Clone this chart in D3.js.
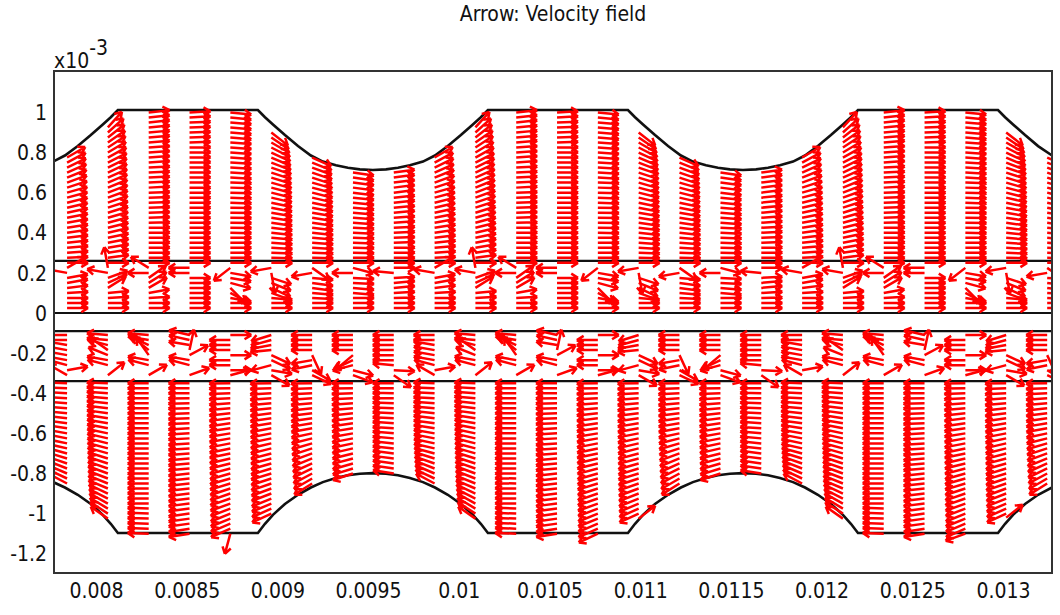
<!DOCTYPE html>
<html><head><meta charset="utf-8">
<script src="https://cdn.jsdelivr.net/npm/d3@7"></script>
<style>
html,body{margin:0;padding:0;background:#fff}
svg{display:block}
text{font-family:"DejaVu Sans Condensed","DejaVu Sans",sans-serif;font-stretch:condensed;fill:#111}
</style></head><body><svg id="c" width="1060" height="615"></svg>
<script>
// ---- axes
const titleText = "Arrow: Velocity field";
const xTicks = [8,8.5,9,9.5,10,10.5,11,11.5,12,12.5,13];
const xTickLabels = ["0.008","0.0085","0.009","0.0095","0.01","0.0105","0.011","0.0115","0.012","0.0125","0.013"];
const yTicks = [1,0.8,0.6,0.4,0.2,0,-0.2,-0.4,-0.6,-0.8,-1,-1.2];
const yTickLabels = ["1","0.8","0.6","0.4","0.2","0","-0.2","-0.4","-0.6","-0.8","-1","-1.2"];

// ---- geometry (x and y in units of 1e-3)
const wallX = [7.763,7.823,7.894,7.966,8.032,8.076,8.115,
 8.887,8.926,8.970,9.036,9.108,9.179,9.245,9.317,9.383,9.449,9.521,9.593,9.659,9.725,9.797,9.863,9.934,10.006,10.072,10.116,10.155,
 10.927,10.966,11.010,11.076,11.148,11.219,11.285,11.357,11.423,11.489,11.561,11.633,11.699,11.765,11.837,11.903,11.974,12.046,12.112,12.156,12.195,
 12.967,13.006,13.050,13.116,13.188,13.265];
const topWallY = [.757,.785,.832,.887,.940,.976,1.012,
 1.012,.976,.940,.887,.832,.785,.755,.736,.724,.716,.713,.716,.724,.736,.755,.785,.832,.887,.940,.976,1.012,
 1.012,.976,.940,.887,.832,.785,.755,.736,.724,.716,.713,.716,.724,.736,.755,.785,.832,.887,.940,.976,1.012,
 1.012,.976,.940,.887,.832,.785];
const bottomWallY = [-.845,-.870,-.906,-.952,-1.006,-1.051,-1.097,
 -1.097,-1.051,-1.006,-.952,-.906,-.870,-.843,-.823,-.809,-.801,-.798,-.801,-.809,-.823,-.843,-.870,-.906,-.952,-1.006,-1.051,-1.097,
 -1.097,-1.051,-1.006,-.952,-.906,-.870,-.843,-.823,-.809,-.801,-.798,-.801,-.809,-.823,-.843,-.870,-.906,-.952,-1.006,-1.051,-1.097,
 -1.097,-1.051,-1.006,-.952,-.906,-.870];
const layerLinesY = [0.26,0,-0.09,-0.34];

// ---- arrow sampling grid
const columnX = [7.835,8.060,8.285,8.510,8.735,8.961,9.186,9.411,9.636,9.861,10.086,10.311,10.536,10.761,10.986,11.211,11.437,11.662,11.887,12.112,12.337,12.562,12.787,13.012,13.238];
const topRows = [1,.975,.95,.925,.9,.875,.85,.825,.8,.775,.75,.725,.7,.675,.65,.625,.6,.575,.55,.525,.5,.475,.45,.425,.4,.375,.35,.325,.3,.275];
const upperRows = [.25,.225,.2,.175,.15,.125,.1,.075,.05,.025];
const lowerRows = [-.11,-.135,-.16,-.185,-.21,-.235,-.26,-.285,-.31];
const bottomRows = [-.35,-.375,-.4,-.425,-.45,-.475,-.5,-.525,-.55,-.575,-.6,-.625,-.65,-.675,-.7,-.725,-.75,-.775,-.8,-.825,-.85,-.875,-.9,-.925,-.95,-.975,-1,-1.025,-1.05,-1.075,-1.1];

// ---- arrow directions in degrees (0 = right, 90 = up), one list per column of the repeating cell
const topFirstRow = [9,3,0,0,0,4,9,12,12];
const topAngles = [
 [30,28,26,24,22,20,18,16,15,14,13,12,11,10,9,8,7,6,5,4,3],
 [48,42,38,35,33,31,29,27,26,25,24,23,22,21,20,19,18,17,16,15,14,13,12,11,10,9,8],
 [6,6,6,5,5,5,5,4,4,4,4,3,3,3,3,3,2,2,2,2,2,2,1,1,1,1,1,1,0,0],
 [3,3,2,2,2,2,2,1,1,1,1,1,1,1,1,0,0,0,0,0,0,0,0,0,0,0,0,0,0,0],
 [-6,-6,-5,-5,-5,-5,-4,-4,-4,-4,-3,-3,-3,-3,-2,-2,-2,-2,-2,-1,-1,-1,-1,-1,-1,0,0,0,0,0],
 [-38,-34,-30,-27,-25,-23,-21,-19,-18,-17,-16,-15,-14,-13,-12,-11,-10,-9,-8,-7,-6,-5,-4,-3,-2,-1],
 [-24,-22,-20,-19,-18,-16,-15,-14,-13,-12,-11,-10,-9,-8,-7,-6,-5,-4,-3,-2,-1],
 [-8,-8,-7,-7,-7,-6,-6,-5,-5,-4,-4,-3,-3,-2,-2,-1,-1,0],
 [8,8,7,7,7,6,6,5,5,4,4,3,3,2,2,1,1,0]
];
const upperAngles = [
 [0,30,170,10,10,7,3,0,0,0],
 [0,100,170,20,25,32,5,3,0,0],
 [0,148,180,35,32,30,10,3,0,0],
 [0,180,180,0,0,0,0,0,0,0],
 [0,218,-10,-10,-15,-45,-28,-10,0,0],
 [0,190,-80,-18,-22,-25,-20,-5,0,0],
 [0,-35,190,-5,-8,-8,-5,-3,0,0],
 [0,-15,180,-3,-3,-5,-5,0,0,0],
 [0,0,175,3,5,5,3,1,0,0]
];
const lowerAngles = [
 [180,180,170,170,170,170,165,10,150],
 [175,175,165,145,158,170,165,null,38],
 [175,170,155,140,125,170,165,null,30],
 [167,167,170,78,28,170,165,null,20],
 [0,180,180,180,0,180,180,0,15],
 [197,195,190,185,-25,-25,195,-10,-30],
 [180,180,180,180,-65,190,192,-30,-25],
 [180,180,180,180,220,205,195,-15,-20],
 [180,180,180,180,180,180,175,-3,-35]
];
const bottomAngles = [
 [178,178,177,177,176,175,174,173,172,171,170,169,168,167,165,163,161,159,157,155,152],
 [178,177,176,175,174,173,172,171,170,169,168,167,166,165,164,163,162,161,160,159,158,157,155,153,151,149,147,145],
 [180,180,180,180,180,180,180,180,180,180,180,180,180,180,180,180,180,180,180,179,179,179,179,179,179,178,178,178,178,178,178],
 [180,180,180,181,181,181,182,182,182,183,183,183,184,184,184,185,185,185,186,186,186,186,187,187,187,187,188,188,188,189,189],
 [181,181,182,183,184,185,186,187,188,188,189,190,191,192,192,193,194,195,196,196,197,198,199,199,200,201,202,202,203,204,205],
 [181,182,183,184,185,186,187,188,189,190,191,192,193,194,195,195,196,197,197,198,199,200,201,202,203,204,205],
 [181,182,183,184,185,186,187,188,189,190,192,194,196,198,200,202,204,206,208,210,212],
 [180,181,182,183,184,185,186,187,188,189,190,191,192,193,194,195,196,197,198],
 [180,180,179,179,178,178,177,177,176,176,175,175,174,174,173,173,172,172,171]
];
// isolated arrows at the lower wall: column index, y, angle
const strayColumn = [4,13,22,14,23];
const strayY = [-1.1,-1.1,-1.1,-1.025,-1.02];
const strayAngle = [255,205,200,38,38];

// ---- scales
const x = d3.scaleLinear().domain([8,13]).range([97,1004]);
const y = d3.scaleLinear().domain([0,1]).range([313,112.4]);
const xLeft = 54, xRight = 1052, yTop = 71, yBottom = 573;
const arrowLength = 21, headLength = 8, headAngle = 32, arrowWidth = 2.5;

const svg = d3.select("#c");
svg.append("defs").append("clipPath").attr("id","plot").append("rect")
  .attr("x",xLeft).attr("y",yTop).attr("width",xRight-xLeft).attr("height",yBottom-yTop);
const plot = svg.append("g").attr("clip-path","url(#plot)");

// walls and layer lines
const line = d3.line().x((d,i)=>x(wallX[i])).y(d=>y(d));
[topWallY,bottomWallY].forEach(w=>plot.append("path").attr("d",line(w)).attr("fill","none").attr("stroke","#111").attr("stroke-width",2.6));
plot.selectAll("line.layer").data(layerLinesY).join("line").attr("class","layer")
  .attr("x1",xLeft).attr("x2",xRight).attr("y1",d=>y(d)).attr("y2",d=>y(d)).attr("stroke","#111").attr("stroke-width",2.2);

// collect arrows
const arrows = [];
columnX.forEach((cx,k)=>{
  const p = (k%9+9)%9;
  topAngles[p].forEach((a,j)=>arrows.push({x:cx,y:topRows[j+topFirstRow[p]],a}));
  upperAngles[p].forEach((a,j)=>arrows.push({x:cx,y:upperRows[j],a}));
  lowerAngles[p].forEach((a,j)=>{ if(a!==null) arrows.push({x:cx,y:lowerRows[j],a}); });
  bottomAngles[p].forEach((a,j)=>{
    if(j===30 && strayColumn.includes(k)) return;
    arrows.push({x:cx,y:bottomRows[j],a});
  });
});
strayColumn.forEach((k,i)=>arrows.push({x:columnX[k],y:strayY[i],a:strayAngle[i]}));

const arrowPath = d=>{
  const p = d3.path(), t = d.a*Math.PI/180;
  const x0=x(d.x), y0=y(d.y), x1=x0+arrowLength*Math.cos(t), y1=y0-arrowLength*Math.sin(t);
  p.moveTo(x0,y0); p.lineTo(x1,y1);
  [headAngle,-headAngle].forEach(h=>{
    const b=t+Math.PI+h*Math.PI/180;
    p.moveTo(x1,y1); p.lineTo(x1+headLength*Math.cos(b),y1-headLength*Math.sin(b));
  });
  return p.toString();
};
plot.append("g").selectAll("path").data(arrows).join("path").attr("d",arrowPath)
  .attr("fill","none").attr("stroke","#ff0000").attr("stroke-width",arrowWidth);

// frame
svg.append("rect").attr("x",xLeft).attr("y",yTop).attr("width",xRight-xLeft).attr("height",yBottom-yTop)
  .attr("fill","none").attr("stroke","#333").attr("stroke-width",2);

// axes
const ax = d3.axisBottom(x).tickValues(xTicks).tickSize(0).tickPadding(0).tickFormat((d,i)=>xTickLabels[i]);
const gx = svg.append("g").attr("transform",`translate(-1,${yBottom+10})`).call(ax);
const ay = d3.axisLeft(y).tickValues(yTicks).tickSize(0).tickPadding(0).tickFormat((d,i)=>yTickLabels[i]);
const gy = svg.append("g").attr("transform",`translate(47,0.5)`).call(ay);
[gx,gy].forEach(g=>{g.select(".domain").remove(); g.selectAll("text").attr("font-size",21).attr("fill","#111").style("font-family",'"DejaVu Sans Condensed","DejaVu Sans",sans-serif');});

svg.append("text").attr("x",553).attr("y",21).attr("text-anchor","middle").attr("font-size",21).text(titleText);
const sci = svg.append("text").attr("x",54).attr("y",68).attr("font-size",21);
sci.append("tspan").text("x10");
sci.append("tspan").attr("dy",-13).attr("font-size",21).text("-3");
</script></body></html>
